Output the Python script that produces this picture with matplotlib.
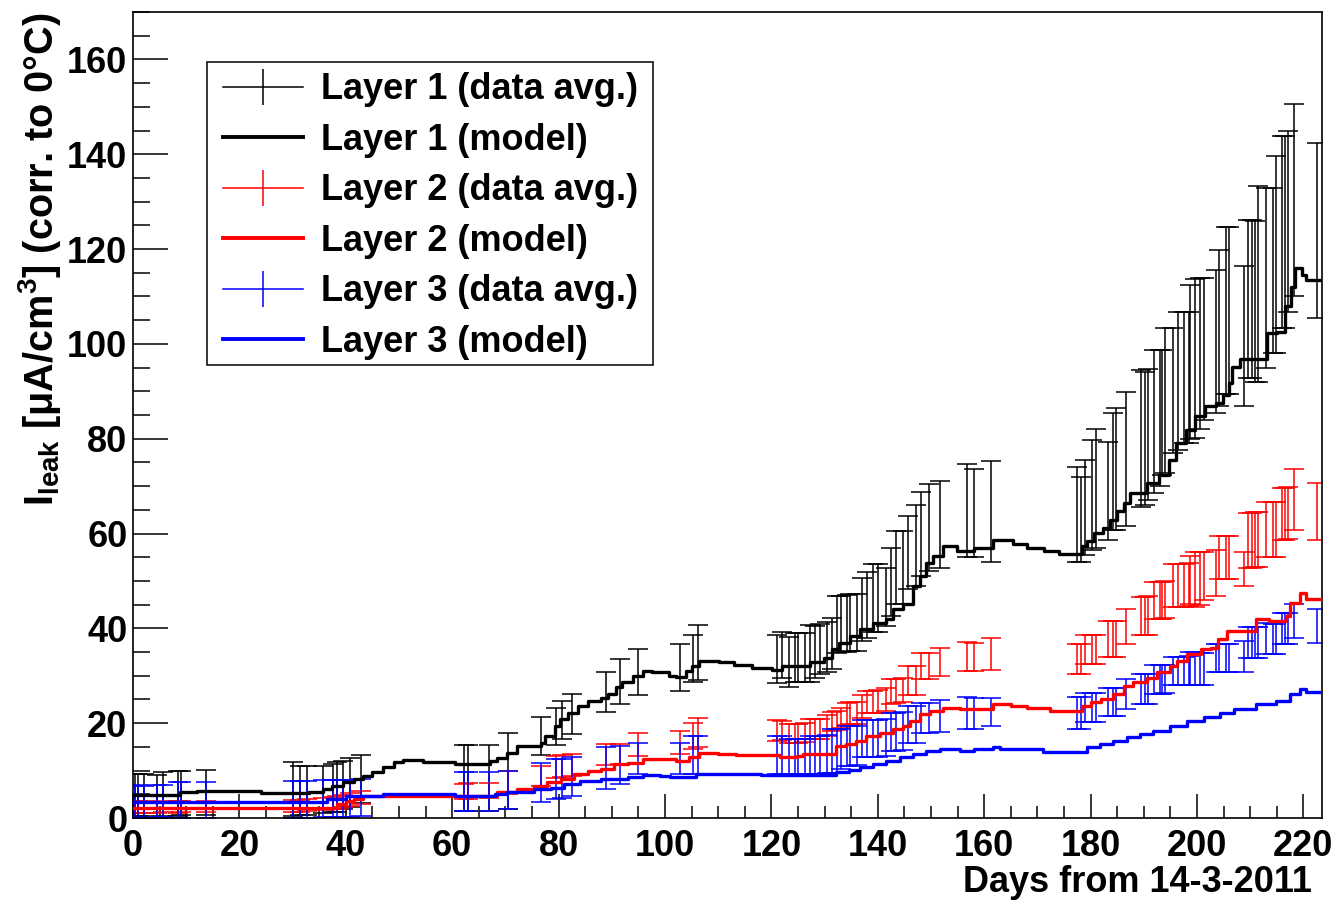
import numpy as np
import matplotlib
matplotlib.use('Agg')
import matplotlib.pyplot as plt
from matplotlib.lines import Line2D
from matplotlib.patches import Rectangle

plt.rcParams['font.family'] = ['Liberation Sans', 'DejaVu Sans']
plt.rcParams['font.weight'] = 'bold'
plt.rcParams['mathtext.fontset'] = 'custom'
plt.rcParams['mathtext.rm'] = 'Liberation Sans:bold'
plt.rcParams['mathtext.it'] = 'Liberation Sans:bold'
plt.rcParams['mathtext.bf'] = 'Liberation Sans:bold'

# ---------------- data ----------------
# days with measurements (shared by the three layers)
data_days = [0.4, 1.0, 2.0, 4.5, 5.7, 8.5, 9.1, 13.7,
             30.1, 31.3, 32.7, 35.8, 37.6, 38.3, 39.5, 40.7, 42.8,
             62.2, 63.0, 66.9, 70.5, 76.6, 79.5, 80.6, 82.5, 89.0, 91.5, 95.0, 102.8, 105.2, 106.2,
             121.0, 122.0, 123.4, 124.5, 125.0, 126.3, 127.3, 128.2, 129.2, 130.5, 131.3, 132.3,
             133.0, 134.2, 134.8, 136.0, 137.0, 137.9, 139.1, 140.0, 141.6, 142.5, 143.5, 144.7,
             145.6, 147.2, 148.1, 149.7, 151.7, 156.7, 158.0, 161.2,
             177.5, 178.2, 179.0, 180.2, 181.1, 183.3, 184.2, 184.8, 186.7, 189.5, 190.2, 190.8,
             192.0, 193.0, 193.5, 194.0, 195.5, 196.5, 197.5, 198.5, 198.7, 199.7, 200.5, 201.3,
             203.5, 204.1, 205.5, 206.1, 208.9, 209.6, 210.3, 210.9, 211.5, 212.9, 214.3, 214.9,
             216.0, 216.6, 217.2, 218.2, 222.5]

l1_val = [4.8, 4.9, 4.9, 4.6, 5.1, 5.2, 5.3, 5.4,
          6.2, 5.8, 5.8, 6.0, 6.3, 6.5, 7.0, 7.5, 8.2,
          8.5, 8.5, 8.4, 10.0, 17.2, 19.3, 20.7, 22.0, 26.5, 28.8, 30.8, 31.7, 33.6, 35.0,
          33.5, 34.4, 32.9, 33.8, 33.8, 33.8, 34.7, 35.0, 35.6, 36.0, 36.8, 40.9,
          40.9, 41.0, 41.2, 41.2, 44.0, 44.9, 46.4, 46.4, 46.6, 49.8, 52.8, 52.8,
          55.9, 57.5, 59.9, 61.2, 61.9, 64.8, 64.3, 64.6,
          64.0, 63.0, 65.5, 68.2, 69.5, 69.0, 73.1, 73.6, 75.7, 80.1, 80.0, 80.8,
          83.6, 84.4, 85.5, 88.1, 90.2, 92.2, 92.9, 92.9, 96.2, 96.9, 97.9, 98.9,
          100.5, 103.4, 107.1, 107.1, 101.6, 109.5, 109.5, 109.0, 112.7, 113.9, 115.4, 118.8,
          123.6, 123.6, 125.9, 130.4, 123.9]
l1_err = [4.5, 4.4, 4.4, 4.5, 4.6, 4.7, 4.6, 4.7,
          5.7, 5.2, 5.2, 5.0, 5.1, 5.3, 5.1, 5.1, 5.1,
          7.0, 7.0, 7.0, 8.0, 4.0, 4.0, 4.0, 4.2, 4.2, 4.7, 4.9, 4.9, 5.0, 5.8,
          5.0, 4.8, 5.2, 5.2, 5.2, 5.2, 6.1, 5.5, 5.3, 5.3, 5.4, 6.0,
          5.9, 6.0, 6.0, 6.0, 6.7, 6.9, 7.2, 7.2, 6.1, 7.2, 7.7, 7.7,
          7.7, 8.6, 8.9, 9.2, 9.1, 9.8, 9.3, 10.7,
          10.0, 9.0, 10.0, 11.6, 12.5, 10.4, 12.3, 12.8, 14.2, 14.4, 14.0, 13.8,
          15.1, 14.4, 13.2, 15.3, 13.2, 14.5, 13.8, 13.9, 16.2, 16.8, 15.9, 14.9,
          15.1, 16.4, 17.6, 17.6, 14.8, 16.7, 16.7, 17.0, 20.7, 18.9, 17.4, 20.8,
          20.2, 20.2, 19.1, 20.3, 18.5]

l2_val = [2.2, 2.3, 2.3, 2.2, 2.4, 2.3, 2.4, 2.4,
          2.6, 2.6, 2.7, 2.9, 3.1, 3.3, 3.6, 3.9, 4.3,
          5.6, 5.7, 5.8, 7.5, 8.9, 10.8, 11.0, 11.1, 13.4, 13.5, 15.5, 15.9, 17.3, 18.0,
          18.5, 18.5, 17.8, 17.8, 17.9, 18.0, 18.7, 18.8, 18.8, 19.5, 20.3, 20.5,
          21.0, 22.0, 22.1, 22.2, 23.5, 24.5, 24.5, 24.6, 25.0, 26.7, 26.8, 27.0,
          29.0, 29.0, 32.0, 32.0, 32.9, 34.1, 34.0, 34.6,
          33.5, 33.5, 35.5, 35.5, 35.5, 37.7, 37.7, 37.8, 40.3, 42.6, 42.6, 42.7,
          45.8, 45.8, 45.9, 46.0, 49.0, 49.0, 49.1, 49.2, 50.2, 50.2, 50.5, 51.0,
          51.7, 55.0, 55.0, 55.0, 52.5, 58.6, 58.6, 58.7, 58.8, 60.8, 60.8, 60.8,
          64.2, 64.2, 64.3, 67.2, 64.7]
l2_err = [1.2, 1.2, 1.2, 1.1, 1.2, 1.3, 1.2, 1.2,
          1.3, 1.3, 1.3, 1.3, 1.3, 1.3, 1.3, 1.3, 1.3,
          1.6, 1.6, 1.6, 2.5, 2.1, 2.3, 2.3, 2.3, 2.3, 2.2, 2.5, 2.5, 2.8, 3.0,
          2.2, 2.0, 2.0, 2.0, 2.0, 2.0, 2.1, 2.1, 2.1, 2.2, 2.0, 2.0,
          2.1, 2.3, 2.3, 2.3, 2.4, 2.3, 2.3, 2.4, 2.4, 2.6, 2.6, 2.6,
          3.1, 3.1, 2.7, 2.7, 2.9, 3.1, 3.0, 3.4,
          3.2, 3.2, 3.1, 3.1, 3.1, 3.8, 3.8, 3.8, 3.7, 4.1, 4.1, 4.1,
          3.9, 3.9, 3.9, 3.9, 4.6, 4.5, 4.5, 4.5, 5.0, 5.8, 5.5, 5.0,
          4.9, 4.5, 4.5, 4.5, 3.6, 5.8, 5.8, 5.8, 5.8, 5.8, 5.8, 5.8,
          5.5, 5.5, 5.5, 6.4, 6.0]

l3_val = [3.5, 3.5, 3.4, 3.6, 3.6, 3.8, 3.8, 3.8,
          4.0, 4.0, 4.0, 4.1, 4.1, 4.1, 4.2, 4.2, 4.3,
          5.6, 5.6, 5.6, 6.0, 7.4, 8.3, 8.4, 8.8, 10.5, 11.2, 12.6, 12.6, 13.3, 13.3,
          13.3, 13.3, 13.0, 13.0, 13.0, 13.0, 13.3, 13.3, 13.3, 13.5, 14.1, 14.1,
          14.5, 15.2, 15.2, 15.3, 16.7, 16.7, 16.7, 16.8, 17.0, 18.2, 18.2, 18.3,
          19.8, 19.8, 21.1, 21.1, 21.5, 22.1, 22.0, 22.4,
          22.1, 22.1, 23.3, 23.3, 23.3, 24.5, 24.5, 24.5, 26.2, 27.2, 27.2, 27.2,
          29.2, 29.2, 29.2, 29.3, 31.0, 31.0, 31.0, 31.1, 31.5, 31.5, 31.5, 31.5,
          33.7, 33.7, 33.7, 33.8, 34.0, 37.0, 37.0, 37.0, 37.0, 37.8, 37.8, 37.8,
          39.9, 39.9, 40.0, 41.6, 40.5]
l3_err = [3.3, 3.4, 3.3, 3.4, 3.4, 3.7, 3.7, 3.7,
          3.9, 3.9, 3.9, 3.9, 3.9, 3.9, 3.9, 3.9, 3.9,
          4.1, 4.1, 4.1, 4.0, 4.1, 4.2, 4.1, 4.1, 4.4, 4.0, 3.3, 3.3, 4.0, 4.0,
          4.0, 4.0, 3.7, 3.7, 3.7, 3.7, 4.0, 4.0, 4.0, 4.0, 4.6, 4.6,
          4.2, 4.2, 4.2, 4.2, 3.9, 3.9, 3.9, 3.9, 3.9, 4.0, 4.0, 4.0,
          3.9, 3.9, 3.1, 3.1, 3.3, 3.4, 3.3, 3.0,
          3.4, 3.4, 3.1, 3.0, 3.0, 3.0, 3.0, 3.0, 3.2, 3.2, 3.1, 3.1,
          3.1, 3.0, 3.0, 3.0, 3.0, 3.0, 3.0, 3.0, 3.5, 3.5, 3.4, 3.4,
          3.0, 3.0, 3.0, 3.0, 3.3, 3.3, 3.3, 3.2, 3.2, 3.3, 3.2, 3.2,
          3.3, 3.3, 3.3, 3.6, 3.6]

# model curves (step functions: value holds from this day to the next)
m1_days = [0, 8.8, 12, 24, 33, 35.8, 37.5, 39.5, 41.5, 43.3, 45, 47, 49, 50.8, 54.6, 60.5,
           67.1, 68.4, 70.3, 72.2, 76.6, 77.5, 79.3, 80.2, 81.8, 83.7, 85.5, 88, 89.3, 90.8,
           92, 93.9, 95.8, 97.6, 100.8, 102, 103.9, 105.1, 106.4, 110.1, 113, 116.4, 120.2,
           122, 127.3, 129.8, 131.3, 132.8, 134.7, 136.6, 139.1, 141.6, 142.8, 144.7, 146.6,
           147.9, 149.1, 150.4, 152.3, 154.8, 158, 161.7, 165.5, 168, 171.2, 174, 178.4,
           179.3, 180.6, 182.4, 183.7, 184.9, 186.2, 187.4, 190.6, 192.9, 194.8, 196, 197.9,
           199.7, 201.6, 203.5, 204.8, 206, 206.6, 208, 213.1, 215, 216.5, 217.7, 218.4,
           219.8, 220.5, 223.5]
m1_val = [4.8, 5.4, 5.7, 5.2, 5.4, 6.1, 6.8, 7.5, 8.2, 8.9, 9.8, 10.8, 11.8, 12.3, 11.8, 11.4,
          12.1, 12.6, 13.7, 15.2, 15.9, 17.3, 19.4, 20.8, 22.2, 23.6, 24.7, 25.4, 26.1, 27.6,
          28.6, 30.0, 31.0, 30.7, 30.0, 29.7, 31.0, 32.1, 33.1, 32.8, 32.3, 31.7, 31.2,
          32.1, 32.8, 33.8, 35.6, 37.0, 38.4, 39.8, 41.2, 41.9, 44.0, 45.1, 48.9,
          51.0, 53.8, 55.2, 57.3, 56.3, 57.0, 58.7, 57.7, 57.0, 56.3, 55.6, 57.3,
          58.4, 60.2, 61.2, 62.9, 64.7, 66.5, 68.6, 70.7, 72.4, 75.6, 79.1, 81.9,
          84.7, 86.8, 87.5, 89.3, 91.7, 95.2, 96.8, 102.3, 102.6, 107.9, 112.0, 116.0,
          114.5, 113.5, 113.5]

m2_days = [0, 38.3, 40, 41.5, 43.2, 68.4, 72.2, 75.3, 77.9, 80.4, 82.9, 85.5, 88, 90.5, 93,
           95.8, 102, 104.5, 106.4, 110, 113.3, 121.6, 124.8, 126, 132.2, 134, 135.9, 137.8,
           140.4, 142.8, 144.7, 146, 147.9, 149.8, 152.3, 155.4, 161.7, 165, 168, 172.4,
           178.4, 180, 182, 184.3, 186.2, 188, 190.6, 192.5, 195, 196.3, 198.2, 200.7, 202.6,
           203.9, 205.7, 211.1, 213.6, 216.7, 217.4, 219.3, 220.5, 223.5]
m2_val = [2.2, 2.9, 3.5, 4.1, 4.7, 5.4, 6.1, 6.8, 7.5, 8.2, 9.3, 10.0, 10.3, 11.4, 11.7,
          12.4, 12.1, 12.8, 13.7, 13.5, 13.3, 12.8, 13.0, 13.5, 15.2, 15.6, 16.3, 17.3,
          18.0, 18.7, 19.4, 20.5, 21.9, 22.6, 23.3, 22.9, 24.0, 23.6, 23.3, 22.6,
          23.6, 24.4, 25.0, 26.1, 27.9, 28.6, 29.6, 30.7, 32.1, 33.1, 34.5, 35.6, 35.9,
          37.7, 39.4, 41.9, 41.5, 42.6, 45.4, 47.4, 46.2, 46.2]

m3_days = [0, 36.5, 40, 47, 60.5, 68, 70.3, 75.3, 78.5, 81, 84.1, 88, 93, 95.8, 99, 101,
           105.8, 113, 118, 132.2, 134.5, 136.6, 139.1, 141.6, 144.1, 146.6, 149.1, 151.7,
           155.4, 158, 161.7, 163, 171, 179.3, 181.8, 184.3, 186.8, 189.3, 191.8, 195,
           198.2, 201.3, 204.4, 207, 211.1, 214.9, 217.4, 219.3, 220.5, 223.5]
m3_val = [3.3, 4.0, 4.7, 5.05, 4.7, 5.0, 5.5, 6.1, 6.4, 7.2, 7.9, 8.2, 8.6, 9.05, 8.9, 8.6,
          9.3, 9.2, 9.05, 9.75, 10.2, 10.7, 11.4, 12.1, 12.8, 13.5, 14.2, 14.5,
          14.2, 14.5, 14.9, 14.5, 14.0, 14.9, 15.6, 16.3, 17.0, 17.7, 18.4, 19.4,
          20.5, 21.2, 22.2, 22.9, 24.0, 24.7, 26.1, 27.2, 26.6, 26.6]

layer_labels = ['Layer 1 (data avg.)', 'Layer 1 (model)',
                'Layer 2 (data avg.)', 'Layer 2 (model)',
                'Layer 3 (data avg.)', 'Layer 3 (model)']
colors = ['black', '#ff0000', '#0000ff']

# ---------------- plot ----------------
W, H = 1342, 900
fig = plt.figure(figsize=(W/100, H/100), dpi=100)
ax = fig.add_axes([133/W, 1-818/H, (1322-133)/W, (818-12)/H])

data = [(l1_val, l1_err), (l2_val, l2_err), (l3_val, l3_err)]
models = [(m1_days, m1_val), (m2_days, m2_val), (m3_days, m3_val)]

for (v, e), c in zip(data, colors):
    ax.errorbar(data_days, v, yerr=e, fmt='none', ecolor=c, elinewidth=1.1,
                capsize=7, capthick=1.1, zorder=2)
for (d, v), c in zip(models, colors):
    ax.step(d, v, where='post', color=c, lw=2.4, zorder=3)

ax.set_xlim(0, 223.5)
ax.set_ylim(0, 170)
ax.set_xticks(np.arange(0, 221, 20))
ax.set_xticks(np.arange(0, 223, 5), minor=True)
ax.set_yticks(np.arange(0, 161, 20))
ax.set_yticks(np.arange(0, 171, 5), minor=True)
ax.tick_params(axis='both', which='both', direction='in', top=False, right=False,
               labelsize=26, width=1.1, color='black')
ax.tick_params(axis='x', which='major', length=17, pad=8)
ax.tick_params(axis='x', which='minor', length=8.5)
ax.tick_params(axis='y', which='major', length=25, pad=4)
ax.tick_params(axis='y', which='minor', length=12.5)
for lab in ax.get_xticklabels() + ax.get_yticklabels():
    lab.set_fontweight('bold')
for sp in ax.spines.values():
    sp.set_linewidth(1.2)

fig.text(1312/W, 1-882/H, 'Days from 14-3-2011', ha='right', va='center',
         fontsize=26, fontweight='bold')
fig.text(40/W, 1-13/H,
         'I$_{\\mathregular{leak}}$ [μA/cm$^{\\mathregular{3}}$] (corr. to 0°C)',
         rotation=90, ha='center', va='top', fontsize=28.5, fontweight='bold')

# legend (frame drawn separately to match the box)
handles = []
for c in colors:
    h_data = ax.errorbar([np.nan], [np.nan], yerr=[1], fmt='-', color=c, lw=1.1,
                         elinewidth=1.1, capsize=0)
    h_model = Line2D([], [], color=c, lw=2.8)
    handles += [h_data, h_model]
leg = fig.legend(handles, layer_labels, loc='upper left',
                 bbox_to_anchor=(216/W, 1-65/H),
                 fontsize=26, frameon=False, handlelength=2.2, handletextpad=0.5,
                 labelspacing=0.43, borderpad=0.2, borderaxespad=0)
for t in leg.get_texts():
    t.set_fontweight('bold')
fig.patches.append(Rectangle((207/W, 1-365/H), (653-207)/W, (365-62)/H,
                             transform=fig.transFigure, fill=False,
                             edgecolor='black', linewidth=1.1, zorder=5))

fig.savefig('out.png', dpi=100)
